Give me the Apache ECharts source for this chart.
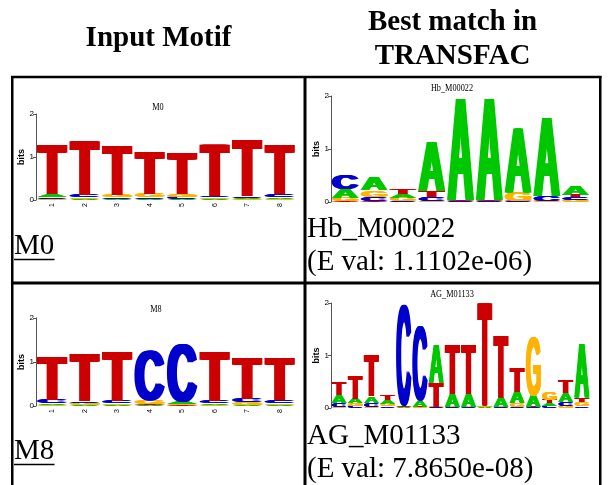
<!DOCTYPE html>
<html><head><meta charset="utf-8">
<script src="https://cdn.jsdelivr.net/npm/echarts@6/dist/echarts.min.js"></script>
<style>html,body{margin:0;padding:0;background:#fff}#c{width:608px;height:485px}</style>
</head><body><div id="c"></div>
<script>
// ---------------- data ----------------
const letterColors = { A: '#00C800', C: '#0000CC', G: '#FFB300', T: '#CC0000' };

const headerLabels = ['Input Motif', 'Best match in', 'TRANSFAC'];
const panelTitles = ['M0', 'Hb_M00022', 'M8', 'AG_M01133'];
const motifLinks = ['M0', 'M8'];
const matchNames = ['Hb_M00022', 'AG_M01133'];
const eValues = ['(E val: 1.1102e-06)', '(E val: 7.8650e-08)'];
const bitsTicks = ['0', '1', '2'];

const m0Positions = ['1', '2', '3', '4', '5', '6', '7', '8'];
// each column: letters bottom -> top, [letter, bits]
const m0Columns = [
  [['G', .03], ['C', .04], ['A', .06], ['T', 1.14]],
  [['A', .03], ['G', .03], ['C', .06], ['T', 1.28]],
  [['A', .03], ['C', .04], ['G', .05], ['T', 1.15]],
  [['A', .03], ['C', .04], ['G', .08], ['T', .98]],
  [['A', .03], ['C', .05], ['G', .06], ['T', .95]],
  [['A', .03], ['G', .03], ['C', .04], ['T', 1.21]],
  [['G', .02], ['A', .03], ['C', .04], ['T', 1.33]],
  [['G', .03], ['A', .04], ['C', .06], ['T', 1.14]]
];

const hbPositions = ['1', '2', '3', '4', '5', '6', '7', '8', '9'];
const hbColumns = [
  [['T', .02], ['G', .06], ['A', .17], ['C', .27]],
  [['T', .02], ['C', .08], ['G', .13], ['A', .24]],
  [['C', .02], ['G', .06], ['A', .07], ['T', .10]],
  [['G', .02], ['C', .07], ['T', .12], ['A', .93]],
  [['C', .01], ['G', .01], ['T', .01], ['A', 1.93]],
  [['C', .01], ['G', .01], ['T', .01], ['A', 1.93]],
  [['C', .01], ['T', .01], ['G', .17], ['A', 1.23]],
  [['G', .01], ['T', .01], ['C', .09], ['A', 1.50]],
  [['G', .04], ['C', .05], ['T', .05], ['A', .18]]
];

const m8Positions = ['1', '2', '3', '4', '5', '6', '7', '8'];
const m8Columns = [
  [['G', .03], ['A', .03], ['C', .08], ['T', 1.00]],
  [['A', .02], ['G', .05], ['C', .04], ['T', 1.09]],
  [['A', .02], ['G', .04], ['C', .05], ['T', 1.11]],
  [['A', .02], ['T', .02], ['G', .08], ['C', 1.15]],
  [['T', .02], ['G', .02], ['A', .06], ['C', 1.31]],
  [['G', .03], ['A', .03], ['C', .06], ['T', 1.13]],
  [['A', .03], ['G', .06], ['C', .08], ['T', .94]],
  [['A', .03], ['G', .04], ['C', .07], ['T', .96]]
];

const agPositions = ['1', '2', '3', '4', '5', '6', '7', '8', '9', '10', '11', '12', '13', '14', '15', '16'];
const agColumns = [
  [['G', .02], ['C', .08], ['A', .14], ['T', .24]],
  [['C', .04], ['G', .05], ['A', .09], ['T', .45]],
  [['G', .02], ['C', .07], ['A', .13], ['T', .78]],
  [['C', .03], ['G', .05], ['A', .08], ['T', .09]],
  [['A', .01], ['G', .01], ['T', .01], ['C', 1.94]],
  [['G', .01], ['T', .01], ['A', .12], ['C', 1.43]],
  [['C', .01], ['G', .01], ['T', .46], ['A', .73]],
  [['C', .01], ['G', .01], ['A', .25], ['T', .95]],
  [['C', .01], ['G', .01], ['A', .25], ['T', .95]],
  [['A', .01], ['C', .01], ['G', .01], ['T', 1.97]],
  [['C', .01], ['G', .01], ['A', .19], ['T', 1.19]],
  [['C', .02], ['G', .08], ['A', .21], ['T', .46]],
  [['C', .01], ['T', .01], ['A', .21], ['G', 1.14]],
  [['C', .04], ['A', .05], ['T', .06], ['G', .15]],
  [['G', .04], ['C', .08], ['A', .17], ['T', .25]],
  [['C', .03], ['G', .08], ['T', .08], ['A', 1.03]]
];

// ---------------- helpers ----------------
const LETTERS = 'ACGT';
const LETTER_FONT = 'bold 100px "Liberation Sans"';
const SMEAR = [-5.5, -2.75, 0, 2.75, 5.5]; // horizontal thickening of glyph strokes (font units)
const SMEAR_D = 5.5;
const mctx = document.createElement('canvas').getContext('2d');
mctx.font = LETTER_FONT;
mctx.textAlign = 'center';
mctx.textBaseline = 'middle';
const ink = {};
LETTERS.split('').forEach(l => {
  const m = mctx.measureText(l);
  ink[l] = { left: -m.actualBoundingBoxLeft - SMEAR_D, right: m.actualBoundingBoxRight + SMEAR_D,
             top: -m.actualBoundingBoxAscent, bottom: m.actualBoundingBoxDescent };
});

function stackData(cols) {
  const out = [];
  cols.forEach((col, i) => {
    let acc = 0;
    col.forEach(([l, v]) => { out.push([i, acc, acc + v, LETTERS.indexOf(l)]); acc += v; });
  });
  return out;
}

function renderLetter(params, api) {
  const i = api.value(0), b = api.value(1), t = api.value(2);
  const L = LETTERS[api.value(3)];
  const p0 = api.coord([i, b]), p1 = api.coord([i, t]);
  const w = api.size([1, 0])[0] * 0.95;
  const h = p0[1] - p1[1];
  if (!(h > 0)) return null;
  const g = ink[L];
  const sx = w / (g.right - g.left), sy = h / (g.bottom - g.top);
  const x0 = p0[0] - w / 2, y0 = p1[1];
  return {
    type: 'group', silent: true,
    x: x0 - g.left * sx, y: y0 - g.top * sy, scaleX: sx, scaleY: sy,
    children: SMEAR.map(d => ({
      type: 'text', silent: true, x: d, y: 0,
      style: { text: L, x: 0, y: 0, font: LETTER_FONT, fill: letterColors[L],
               align: 'center', verticalAlign: 'middle', textAlign: 'center', textVerticalAlign: 'middle' }
    }))
  };
}

const panels = [
  { pos: m0Positions, cols: m0Columns, grid: { left: 36, top: 114, width: 260, height: 86 }, xlab: true },
  { pos: hbPositions, cols: hbColumns, grid: { left: 331, top: 96, width: 259, height: 106 }, xlab: false },
  { pos: m8Positions, cols: m8Columns, grid: { left: 36, top: 318, width: 260, height: 88 }, xlab: true },
  { pos: agPositions, cols: agColumns, grid: { left: 331, top: 303, width: 259, height: 105 }, xlab: false }
];

const titlePos = [[158, 107], [452, 88], [156, 309], [452, 294]];

// ---------------- graphic (table, text) ----------------
const serif = '"Liberation Serif", "Times New Roman", serif';
const graphics = [];
function txt(x, y, text, font, align, extra) {
  graphics.push(Object.assign({ type: 'text', x: x, y: y, silent: true,
    style: { text: text, font: font, fill: '#000', align: align, verticalAlign: 'middle',
             textAlign: align, textVerticalAlign: 'middle' } }, extra || {}));
}
function line(x1, y1, x2, y2, w) {
  graphics.push({ type: 'line', silent: true, shape: { x1, y1, x2, y2 }, style: { stroke: '#000', lineWidth: w } });
}
// headers
txt(158.5, 38.5, headerLabels[0], 'bold 29px ' + serif, 'center');
txt(452.5, 23, headerLabels[1], 'bold 29px ' + serif, 'center');
txt(452.5, 57, headerLabels[2], 'bold 29px ' + serif, 'center');
// table borders
line(11, 77, 601.5, 77, 2.5);
line(12.25, 76, 12.25, 490, 2.5);
line(600.25, 76, 600.25, 490, 2.5);
line(305, 76, 305, 490, 3);
line(12, 283, 600, 283, 3);
// cell texts
txt(14, 246.5, motifLinks[0], '29px ' + serif, 'left');
line(14, 259.5, 54.5, 259.5, 1.5);
txt(307, 229, matchNames[0], '29px ' + serif, 'left');
txt(307, 262, eValues[0], '29px ' + serif, 'left');
txt(14, 451.5, motifLinks[1], '29px ' + serif, 'left');
line(14, 464.5, 54.5, 464.5, 1.5);
txt(307, 436, matchNames[1], '29px ' + serif, 'left');
txt(307, 469, eValues[1], '29px ' + serif, 'left');
// logo titles
panelTitles.forEach((t, k) => txt(titlePos[k][0], titlePos[k][1], t, '11px ' + serif, 'center', { scaleX: 0.75 }));

// ---------------- option ----------------
const option = {
  animation: false,
  backgroundColor: '#fff',
  grid: panels.map(p => Object.assign({ containLabel: false }, p.grid)),
  xAxis: panels.map((p, k) => ({
    type: 'category', gridIndex: k, data: p.pos, boundaryGap: true,
    axisLine: { show: false }, axisTick: { show: false }, splitLine: { show: false },
    axisLabel: p.xlab ? { show: true, rotate: 90, fontSize: 7, margin: 3, color: '#000', fontFamily: 'Liberation Sans' } : { show: false }
  })),
  yAxis: panels.map((p, k) => ({
    type: 'value', gridIndex: k, min: 0, max: 2, interval: 1,
    axisLine: { show: true, lineStyle: { color: '#555', width: 1 } },
    axisTick: { show: true, length: 3, lineStyle: { color: '#555' } },
    splitLine: { show: false },
    axisLabel: { fontSize: 8, margin: 2, color: '#000', fontFamily: 'Liberation Sans', formatter: v => bitsTicks[Math.round(v)] },
    name: 'bits', nameLocation: 'middle', nameGap: 6, nameRotate: 90,
    nameTextStyle: { fontSize: 9, fontWeight: 'bold', color: '#000', fontFamily: 'Liberation Sans' }
  })),
  series: panels.map((p, k) => ({
    type: 'custom', coordinateSystem: 'cartesian2d', xAxisIndex: k, yAxisIndex: k,
    renderItem: renderLetter, encode: { x: 0, y: [1, 2] }, clip: false,
    data: stackData(p.cols)
  })),
  graphic: graphics
};

const chart = echarts.init(document.getElementById('c'), null, { renderer: 'canvas' });
chart.setOption(option);
</script>
</body></html>
